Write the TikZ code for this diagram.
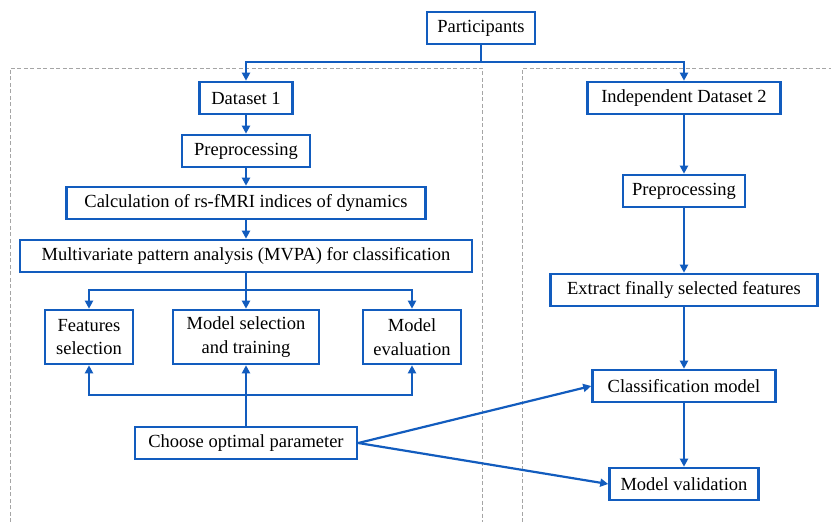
\documentclass[tikz,border=0pt]{standalone}
\usepackage{fontspec}
\setmainfont{Liberation Serif}
\usetikzlibrary{arrows.meta}
\definecolor{fb}{RGB}{18,92,190}
\definecolor{dg}{RGB}{165,165,165}
\begin{document}
\begin{tikzpicture}[x=1pt,y=-1pt,
  box/.style={draw=fb,line width=2.6pt,fill=white,inner xsep=4pt,inner ysep=3pt,minimum height=32pt,font=\fontsize{18.5}{23.5}\selectfont,align=center},
  tall/.style={box,minimum height=54pt},
  conn/.style={draw=fb,line width=2.2pt},
  arr/.style={conn,-{Triangle[width=8pt,length=8pt]}},
  dsh/.style={draw=dg,line width=1pt,dash pattern=on 4pt off 2.5pt}]
\useasboundingbox (0,0) rectangle (831,522);
% dashed frames
\draw[dsh] (10,522) -- (10,68) -- (482,68) -- (482,522);
\draw[dsh] (522,522) -- (522,68) -- (835,68);
% nodes
\node[box,minimum width=108pt] (P) at (481,28) {Participants};
\node[box,minimum width=93pt] (D1) at (246,98) {Dataset 1};
\node[box,minimum width=193pt] (D2) at (684,98) {Independent Dataset 2};
\node[box,minimum width=128pt] (PR1) at (246,151) {Preprocessing};
\node[box,minimum width=359pt] (CA) at (246,203) {Calculation of rs-fMRI indices of dynamics};
\node[box,minimum width=452pt] (MV) at (246,256) {Multivariate pattern analysis (MVPA) for classification};
\node[tall,minimum width=88pt] (FS) at (89,337) {Features\\selection};
\node[tall,minimum width=146pt] (MS) at (246,337) {Model selection\\and training};
\node[tall,minimum width=98pt] (ME) at (412,337) {Model\\evaluation};
\node[box,minimum width=222pt] (CO) at (246,443) {Choose optimal parameter};
\node[box,minimum width=122pt] (PR2) at (684,191) {Preprocessing};
\node[box,minimum width=267pt] (EX) at (684,290) {Extract finally selected features};
\node[box,minimum width=183pt] (CM) at (684,386) {Classification model};
\node[box,minimum width=149pt] (VA) at (684,484) {Model validation};
% connectors
\coordinate (s0) at (481,62);
\draw[conn] (P.south) -- (s0);
\draw[arr] (s0) -| (D1.north);
\draw[arr] (s0) -| (D2.north);
\draw[arr] (D1) -- (PR1);
\draw[arr] (PR1) -- (CA);
\draw[arr] (CA) -- (MV);
\coordinate (s1) at (246,290);
\draw[conn] (MV.south) -- (s1);
\draw[arr] (s1) -| (FS.north);
\draw[arr] (s1) -| (ME.north);
\draw[arr] (s1) -- (MS.north);
\coordinate (s2) at (246,395);
\draw[arr] (CO.north) -- (MS.south);
\draw[arr] (s2) -| (FS.south);
\draw[arr] (s2) -| (ME.south);
\draw[arr] (D2) -- (PR2);
\draw[arr] (PR2) -- (EX);
\draw[arr] (EX) -- (CM);
\draw[arr] (CM) -- (VA);
\draw[arr] (CO.east) -- (CM.west);
\draw[arr] (CO.east) -- (VA.west);
\end{tikzpicture}
\end{document}
